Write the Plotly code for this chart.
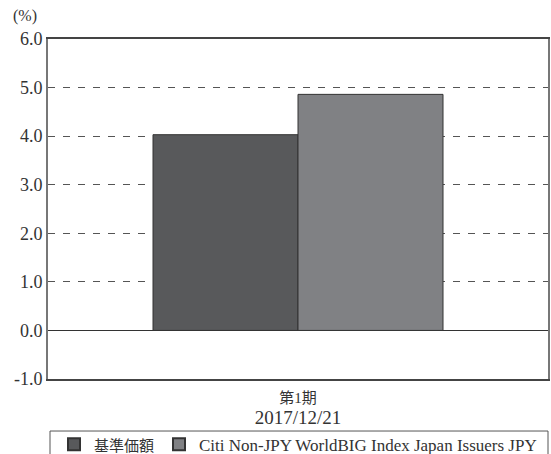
import plotly.graph_objects as go

categories = ["<span style='font-size:15px'>第1期</span><br><span style='font-size:19px'>2017/12/21</span>"]
series_names = ["<span style='font-size:15px'>基準価額</span>",
                "Citi Non-JPY WorldBIG Index Japan Issuers JPY"]
series_values = [[4.03], [4.86]]
series_colors = ["#58595b", "#808184"]
y_ticks = [-1, 0, 1, 2, 3, 4, 5, 6]
y_tick_text = [f"{v:.1f}" for v in y_ticks]

FONT = "Liberation Serif, Noto Sans CJK JP, serif"

fig = go.Figure()
for name, vals, col in zip(series_names, series_values, series_colors):
    fig.add_trace(go.Bar(
        x=categories, y=vals, name=name,
        marker=dict(color=col, line=dict(color="#333333", width=1)),
    ))

fig.update_layout(
    width=551, height=454,
    margin=dict(l=48, r=3, t=39, b=75, autoexpand=False),
    paper_bgcolor="white", plot_bgcolor="white",
    barmode="group", bargap=0.42, bargroupgap=0,
    font=dict(family=FONT, size=18, color="#333333"),
    showlegend=True,
    legend=dict(orientation="h", x=0.5, xanchor="center", y=-0.14, yanchor="top",
                font=dict(size=17, color="#333333"), itemsizing="constant",
                bgcolor="rgba(0,0,0,0)", traceorder="normal", itemwidth=30,
                tracegroupgap=0),
    xaxis=dict(showline=True, linecolor="#444444", linewidth=1.5, mirror=True,
               ticks="", tickfont=dict(size=16), showgrid=False,
               ticklabelstandoff=3),
    yaxis=dict(range=[-1, 6], tickvals=y_ticks, ticktext=y_tick_text,
               showline=True, linecolor="#777777", linewidth=2, mirror=True,
               showgrid=True, gridcolor="#555555", gridwidth=1, griddash="7px,8px",
               zeroline=True, zerolinecolor="#333333", zerolinewidth=1,
               ticks="", tickfont=dict(size=18)),
    shapes=[dict(type="rect", xref="paper", yref="paper", x0=0.004, x1=1.0,
                 y0=-0.153, y1=-0.30, line=dict(color="#555555", width=1))],
    annotations=[dict(text="(%)", xref="paper", yref="paper", x=-0.075, y=1.035,
                      xanchor="left", yanchor="bottom", showarrow=False,
                      font=dict(size=16, color="#333333"))],
)

fig.write_html("out.html")
